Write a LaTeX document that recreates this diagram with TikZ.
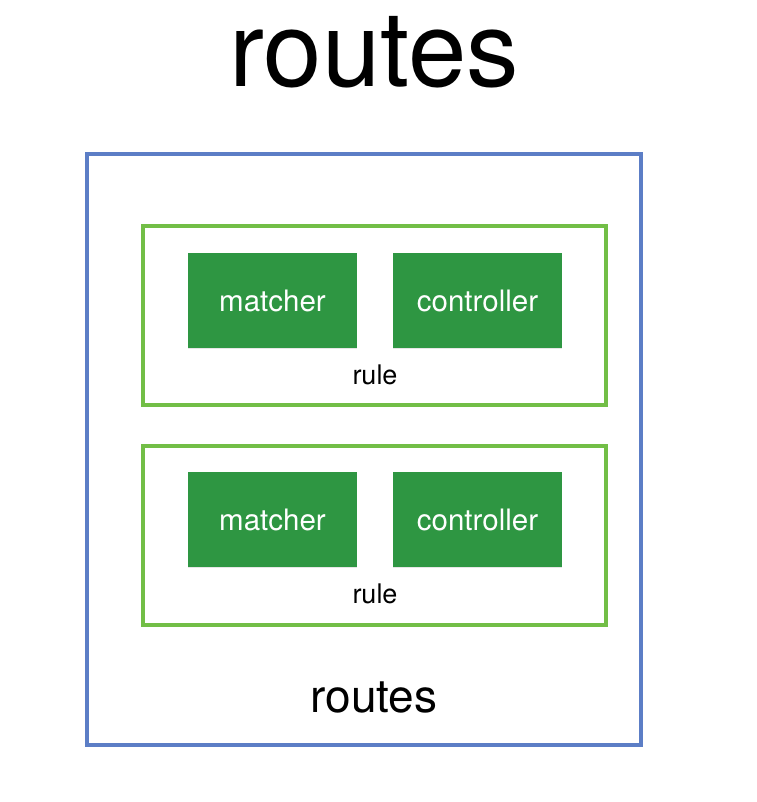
\documentclass[tikz,border=0pt]{standalone}
\usepackage{fontspec}
\setmainfont{TeX Gyre Heros}
\usetikzlibrary{shadows}

\definecolor{routesblue}{RGB}{92,126,198}
\definecolor{rulegreen}{RGB}{114,190,70}
\definecolor{partgreen}{RGB}{46,150,66}

\tikzset{
    routesbox/.style={draw=routesblue, line width=4pt, minimum width=554pt, minimum height=591pt, inner sep=0pt},
    rulebox/.style={draw=rulegreen, line width=4pt, minimum width=463pt, minimum height=179pt, inner sep=0pt},
    partbox/.style={fill=partgreen, text=white, minimum width=169pt, minimum height=95pt, inner sep=0pt,
        drop shadow={shadow xshift=0pt, shadow yshift=-1pt, opacity=0.2},
        font=\fontsize{29.5}{34}\selectfont},
    rulelabel/.style={anchor=base, font=\fontsize{27}{31}\selectfont},
}

\begin{document}
\begin{tikzpicture}[x=1pt, y=-1pt]
    \useasboundingbox (0,0) rectangle (756,802);

    \node[anchor=base, font=\fontsize{105}{115}\selectfont] (title) at (374,87) {routes};

    \node[routesbox] (routes) at (364,449.5) {};
    \node[anchor=base, font=\fontsize{46}{52}\selectfont] (routeslabel) at (374,712) {routes};

    \node[rulebox] (rule1) at (374.5,315.5) {};
    \node[partbox] (matcher1) at (272.5,300.5) {matcher};
    \node[partbox] (controller1) at (477.5,300.5) {controller};
    \node[rulelabel] (rulelabel1) at (375,384) {rule};

    \node[rulebox] (rule2) at (374.5,535) {};
    \node[partbox] (matcher2) at (272.5,519.5) {matcher};
    \node[partbox] (controller2) at (477.5,519.5) {controller};
    \node[rulelabel] (rulelabel2) at (375,603) {rule};
\end{tikzpicture}
\end{document}
